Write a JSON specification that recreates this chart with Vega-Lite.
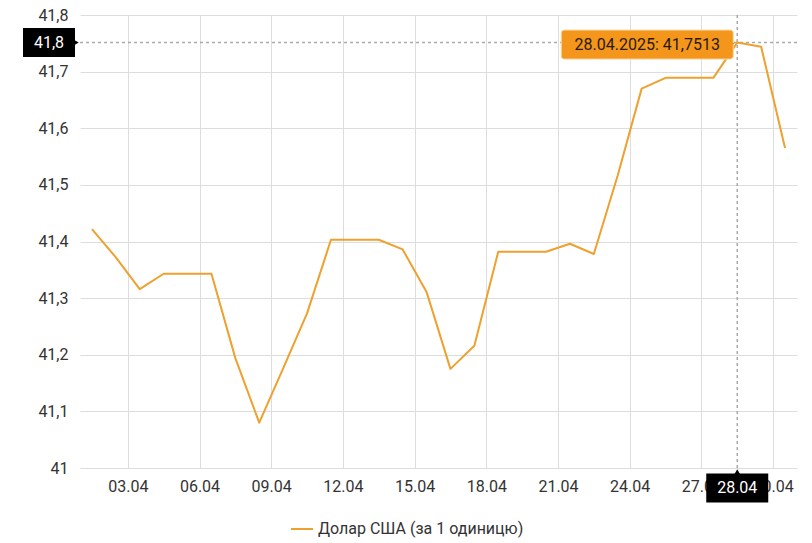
{
  "$schema": "https://vega.github.io/schema/vega-lite/v6.json",
  "width": 717,
  "height": 453,
  "autosize": {"type": "none"},
  "padding": {"left": 80, "top": 15, "right": 15, "bottom": 75},
  "background": "white",
  "datasets": {
    "rates": [
      {"date": "2025-04-01T12:00:00", "value": 41.422, "series": "Долар США (за 1 одиницю)"},
      {"date": "2025-04-02T12:00:00", "value": 41.372, "series": "Долар США (за 1 одиницю)"},
      {"date": "2025-04-03T12:00:00", "value": 41.316, "series": "Долар США (за 1 одиницю)"},
      {"date": "2025-04-04T12:00:00", "value": 41.343, "series": "Долар США (за 1 одиницю)"},
      {"date": "2025-04-05T12:00:00", "value": 41.343, "series": "Долар США (за 1 одиницю)"},
      {"date": "2025-04-06T12:00:00", "value": 41.343, "series": "Долар США (за 1 одиницю)"},
      {"date": "2025-04-07T12:00:00", "value": 41.194, "series": "Долар США (за 1 одиницю)"},
      {"date": "2025-04-08T12:00:00", "value": 41.080, "series": "Долар США (за 1 одиницю)"},
      {"date": "2025-04-09T12:00:00", "value": 41.176, "series": "Долар США (за 1 одиницю)"},
      {"date": "2025-04-10T12:00:00", "value": 41.273, "series": "Долар США (за 1 одиницю)"},
      {"date": "2025-04-11T12:00:00", "value": 41.403, "series": "Долар США (за 1 одиницю)"},
      {"date": "2025-04-12T12:00:00", "value": 41.403, "series": "Долар США (за 1 одиницю)"},
      {"date": "2025-04-13T12:00:00", "value": 41.403, "series": "Долар США (за 1 одиницю)"},
      {"date": "2025-04-14T12:00:00", "value": 41.386, "series": "Долар США (за 1 одиницю)"},
      {"date": "2025-04-15T12:00:00", "value": 41.311, "series": "Долар США (за 1 одиницю)"},
      {"date": "2025-04-16T12:00:00", "value": 41.175, "series": "Долар США (за 1 одиницю)"},
      {"date": "2025-04-17T12:00:00", "value": 41.216, "series": "Долар США (за 1 одиницю)"},
      {"date": "2025-04-18T12:00:00", "value": 41.382, "series": "Долар США (за 1 одиницю)"},
      {"date": "2025-04-19T12:00:00", "value": 41.382, "series": "Долар США (за 1 одиницю)"},
      {"date": "2025-04-20T12:00:00", "value": 41.382, "series": "Долар США (за 1 одиницю)"},
      {"date": "2025-04-21T12:00:00", "value": 41.396, "series": "Долар США (за 1 одиницю)"},
      {"date": "2025-04-22T12:00:00", "value": 41.378, "series": "Долар США (за 1 одиницю)"},
      {"date": "2025-04-23T12:00:00", "value": 41.517, "series": "Долар США (за 1 одиницю)"},
      {"date": "2025-04-24T12:00:00", "value": 41.670, "series": "Долар США (за 1 одиницю)"},
      {"date": "2025-04-25T12:00:00", "value": 41.689, "series": "Долар США (за 1 одиницю)"},
      {"date": "2025-04-26T12:00:00", "value": 41.689, "series": "Долар США (за 1 одиницю)"},
      {"date": "2025-04-27T12:00:00", "value": 41.689, "series": "Долар США (за 1 одиницю)"},
      {"date": "2025-04-28T12:00:00", "value": 41.7513, "series": "Долар США (за 1 одиницю)"},
      {"date": "2025-04-29T12:00:00", "value": 41.744, "series": "Долар США (за 1 одиницю)"},
      {"date": "2025-04-30T12:00:00", "value": 41.565, "series": "Долар США (за 1 одиницю)"}
    ],
    "hover": [
      {"date": "2025-04-28T12:00:00", "value": 41.7513, "label": "28.04.2025: 41,7513", "ylabel": "41,8", "xlabel": "28.04"}
    ]
  },
  "encoding": {
    "x": {
      "field": "date",
      "type": "temporal",
      "title": null,
      "scale": {"domain": [{"year": 2025, "month": 4, "date": 1}, {"year": 2025, "month": 5, "date": 1}]},
      "axis": {
        "values": [
          {"year": 2025, "month": 4, "date": 3},
          {"year": 2025, "month": 4, "date": 6},
          {"year": 2025, "month": 4, "date": 9},
          {"year": 2025, "month": 4, "date": 12},
          {"year": 2025, "month": 4, "date": 15},
          {"year": 2025, "month": 4, "date": 18},
          {"year": 2025, "month": 4, "date": 21},
          {"year": 2025, "month": 4, "date": 24},
          {"year": 2025, "month": 4, "date": 27},
          {"year": 2025, "month": 4, "date": 30}
        ],
        "format": "%d.%m",
        "labelPadding": 10,
        "labelFlush": false,
        "labelOverlap": false
      }
    },
    "y": {
      "field": "value",
      "type": "quantitative",
      "title": null,
      "scale": {"domain": [41, 41.8], "zero": false, "nice": false},
      "axis": {
        "values": [41, 41.1, 41.2, 41.3, 41.4, 41.5, 41.6, 41.7, 41.8],
        "labelExpr": "replace(format(datum.value, '.1~f'), '.', ',')",
        "labelPadding": 12
      }
    }
  },
  "layer": [
    {
      "data": {"name": "hover"},
      "mark": {"type": "rule", "color": "#aaaaaa", "strokeWidth": 1.5, "strokeDash": [3, 3]},
      "encoding": {"y": null}
    },
    {
      "data": {"name": "hover"},
      "mark": {"type": "rule", "color": "#aaaaaa", "strokeWidth": 1.5, "strokeDash": [3, 3]},
      "encoding": {"x": null}
    },
    {
      "data": {"name": "rates"},
      "mark": {"type": "line", "interpolate": "linear", "strokeWidth": 2, "strokeJoin": "round"},
      "encoding": {
        "color": {
          "field": "series",
          "type": "nominal",
          "scale": {"range": ["#efa02f"]},
          "legend": {
            "title": null,
            "orient": "none",
            "legendX": 210,
            "legendY": 502,
            "direction": "horizontal",
            "symbolType": "stroke",
            "symbolSize": 484,
            "symbolStrokeWidth": 2,
            "labelFontSize": 16,
            "labelColor": "#333333",
            "labelLimit": 400
          }
        }
      }
    },
    {
      "data": {"name": "hover"},
      "mark": {"type": "rect", "width": 172, "height": 29, "align": "center", "baseline": "middle", "xOffset": -90, "yOffset": 2, "fill": "#f5961c", "stroke": "#fcd59a", "strokeWidth": 1, "cornerRadius": 3}
    },
    {
      "data": {"name": "hover"},
      "mark": {"type": "point", "shape": "triangle-right", "filled": true, "size": 70, "opacity": 1, "color": "#f5961c", "xOffset": -6, "yOffset": 1}
    },
    {
      "data": {"name": "hover"},
      "mark": {"type": "text", "xOffset": -90, "yOffset": 2, "align": "center", "baseline": "middle", "fontSize": 16, "color": "#2a1a08"},
      "encoding": {"text": {"field": "label"}}
    },
    {
      "data": {"name": "hover"},
      "mark": {"type": "rect", "width": 52, "height": 29, "align": "center", "baseline": "middle", "xOffset": -31, "fill": "#000000"},
      "encoding": {"x": {"datum": {"year": 2025, "month": 4, "date": 1}, "type": "temporal"}}
    },
    {
      "data": {"name": "hover"},
      "mark": {"type": "point", "shape": "triangle-right", "filled": true, "size": 40, "opacity": 1, "color": "#000000", "xOffset": -4},
      "encoding": {"x": {"datum": {"year": 2025, "month": 4, "date": 1}, "type": "temporal"}}
    },
    {
      "data": {"name": "hover"},
      "mark": {"type": "text", "xOffset": -31, "align": "center", "baseline": "middle", "fontSize": 16, "color": "#ffffff"},
      "encoding": {"x": {"datum": {"year": 2025, "month": 4, "date": 1}, "type": "temporal"}, "text": {"field": "ylabel"}}
    },
    {
      "data": {"name": "hover"},
      "mark": {"type": "rect", "width": 62, "height": 29, "align": "center", "baseline": "middle", "yOffset": 20, "fill": "#000000"},
      "encoding": {"y": {"datum": 41, "type": "quantitative"}}
    },
    {
      "data": {"name": "hover"},
      "mark": {"type": "point", "shape": "triangle-up", "filled": true, "size": 40, "opacity": 1, "color": "#000000", "yOffset": 4},
      "encoding": {"y": {"datum": 41, "type": "quantitative"}}
    },
    {
      "data": {"name": "hover"},
      "mark": {"type": "text", "yOffset": 20, "align": "center", "baseline": "middle", "fontSize": 16, "color": "#ffffff"},
      "encoding": {"y": {"datum": 41, "type": "quantitative"}, "text": {"field": "xlabel"}}
    }
  ],
  "config": {
    "font": "Roboto",
    "view": {"stroke": null},
    "axis": {
      "domain": false,
      "ticks": false,
      "grid": true,
      "gridColor": "#dddddd",
      "gridWidth": 1,
      "labelFontSize": 16,
      "labelColor": "#333333",
      "labelFont": "Roboto"
    },
    "legend": {"labelFont": "Roboto"}
  }
}
